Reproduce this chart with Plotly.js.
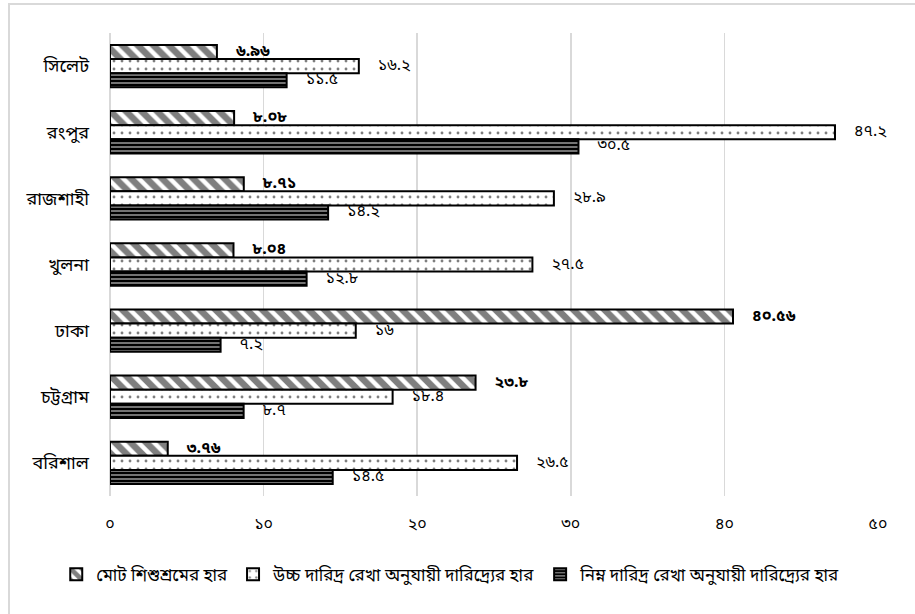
<!DOCTYPE html>
<html>
<head>
<meta charset="utf-8">
<script src="https://cdn.plot.ly/plotly-3.0.1.min.js"></script>
<style>
  html, body { margin: 0; padding: 0; background: #ffffff; }
  #frame { position: absolute; left: 8px; top: 3px; width: 1200px; height: 1200px;
           border: 2px solid #d9d9d9; box-sizing: border-box; }
  #chart { position: absolute; left: 0; top: 0; width: 915px; height: 614px; }
</style>
</head>
<body>
<div id="frame"></div>
<div id="chart"></div>
<script>
// Divisions, listed top to bottom
const divisions = ['সিলেট', 'রংপুর', 'রাজশাহী', 'খুলনা', 'ঢাকা', 'চট্টগ্রাম', 'বরিশাল'];

// Series names
const seriesNames = [
  'মোট শিশুশ্রমের হার',
  'উচ্চ দারিদ্র রেখা অনুযায়ী দারিদ্র্যের হার',
  'নিম্ন দারিদ্র রেখা অনুযায়ী দারিদ্র্যের হার'
];

// Values per division (same order as divisions)
const childLabour = [6.96, 8.08, 8.71, 8.04, 40.56, 23.8, 3.76];
const upperPoverty = [16.2, 47.2, 28.9, 27.5, 16, 18.4, 26.5];
const lowerPoverty = [11.5, 30.5, 14.2, 12.8, 7.2, 8.7, 14.5];

// Axis tick values and their Bengali labels
const tickVals = [0, 10, 20, 30, 40, 50];
const tickText = ['০', '১০', '২০', '৩০', '৪০', '৫০'];

const bnDigits = '০১২৩৪৫৬৭৮৯';
function toBengali(v) {
  return String(v).replace(/[0-9]/g, d => bnDigits[+d]);
}

const FONT = "'Noto Sans Bengali', 'Vrinda', 'Nirmala UI', 'Lohit Bengali', 'FreeSans', 'Noto Sans', sans-serif";

function barTrace(name, values, pattern, bold) {
  return {
    type: 'bar',
    orientation: 'h',
    name: name,
    y: divisions,
    x: values,
    text: values.map(toBengali),
    texttemplate: '\u2003%{text}',
    textposition: 'outside',
    cliponaxis: false,
    constraintext: 'none',
    textfont: { family: FONT, size: 16, color: '#000000', weight: bold ? 'bold' : 'normal' },
    marker: {
      color: '#ffffff',
      line: { color: '#000000', width: 2 },
      pattern: pattern
    },
    hoverinfo: 'skip'
  };
}

const data = [
  // wide black diagonal hatching
  barTrace(seriesNames[0], childLabour,
    { shape: '\\', fgcolor: '#000000', bgcolor: '#ffffff', size: 11, solidity: 0.6, fillmode: 'overlay' }, true),
  // sparse black dots on white
  barTrace(seriesNames[1], upperPoverty,
    { shape: '.', fgcolor: '#000000', bgcolor: '#ffffff', size: 8, solidity: 0.1, fillmode: 'overlay' }, false),
  // dark fill with thin white horizontal stripes
  barTrace(seriesNames[2], lowerPoverty,
    { shape: '-', fgcolor: '#ffffff', bgcolor: '#000000', size: 4, solidity: 0.45, fillmode: 'overlay' }, false)
];

const layout = {
  width: 915,
  height: 614,
  margin: { l: 110, r: 37, t: 33, b: 118, autoexpand: false },
  paper_bgcolor: 'rgba(0,0,0,0)',
  plot_bgcolor: 'rgba(0,0,0,0)',
  font: { family: FONT, size: 16, color: '#000000' },
  barmode: 'group',
  bargap: 0.36,
  bargroupgap: 0,
  showlegend: true,
  legend: {
    orientation: 'h',
    x: -0.07, xanchor: 'left',
    y: -0.17, yanchor: 'middle',
    font: { family: FONT, size: 17, color: '#000000' },
    itemwidth: 30,
    tracegroupgap: 0
  },
  xaxis: {
    range: [0, 50],
    tickvals: tickVals,
    ticktext: tickText,
    showgrid: true,
    gridcolor: '#d9d9d9',
    gridwidth: 1.5,
    zeroline: true,
    zerolinecolor: '#d9d9d9',
    zerolinewidth: 1.5,
    showline: false,
    ticks: '',
    ticklabelstandoff: 16,
    tickfont: { family: FONT, size: 16, color: '#000000' },
    fixedrange: true
  },
  yaxis: {
    type: 'category',
    autorange: 'reversed',
    showgrid: false,
    zeroline: false,
    showline: false,
    ticks: '',
    ticklabelstandoff: 20,
    tickfont: { family: FONT, size: 18, color: '#000000' },
    fixedrange: true
  }
};

Plotly.newPlot('chart', data, layout, { displayModeBar: false, staticPlot: true });
</script>
</body>
</html>
